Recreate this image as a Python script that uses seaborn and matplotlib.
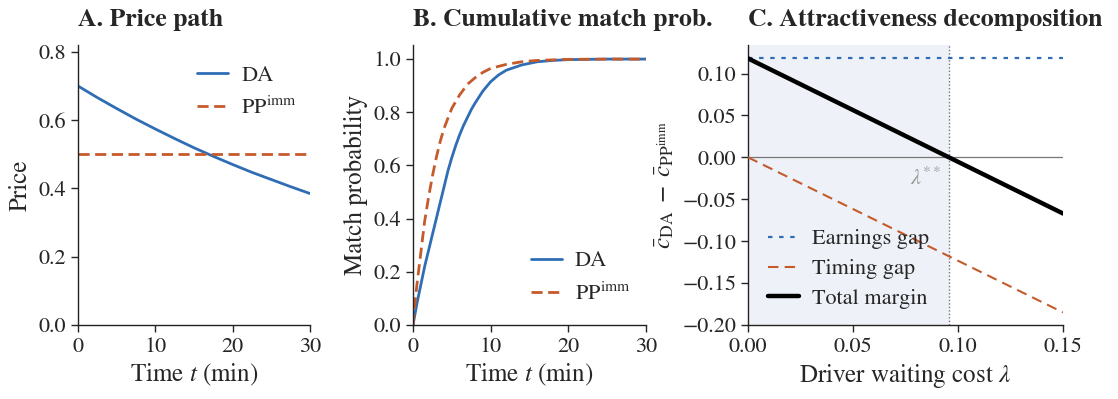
import numpy as np
import pandas as pd
import matplotlib
matplotlib.use("Agg")
import matplotlib.pyplot as plt
import seaborn as sns

# panel A: price path
t_price = [0, 2.5, 5, 7.5, 10, 12.5, 15, 17.5, 20, 22.5, 25, 27.5, 30]
price_da = [0.700, 0.666, 0.634, 0.603, 0.574, 0.546, 0.519, 0.494, 0.470, 0.447, 0.426, 0.405, 0.385]
price_pp = [0.5] * len(t_price)

# panel B: cumulative match probability
t_da = [0, 0.5, 1, 1.5, 2, 2.5, 3, 3.5, 4, 4.5, 5, 5.5, 6, 6.5, 7, 7.5, 8, 9, 10, 11, 12, 14, 16, 18, 20, 25, 30]
match_da = [0, 0.08, 0.15, 0.22, 0.28, 0.34, 0.40, 0.46, 0.52, 0.58, 0.63, 0.675, 0.715, 0.75,
            0.78, 0.81, 0.835, 0.88, 0.915, 0.94, 0.958, 0.978, 0.99, 0.995, 0.998, 1.0, 1.0]
t_pp = [0, 0.25, 0.5, 1, 1.5, 2, 2.5, 3, 3.5, 4, 5, 6, 7, 8, 9, 10, 12, 14, 16, 20, 25, 30]
match_pp = [0, 0.08, 0.15, 0.27, 0.39, 0.48, 0.56, 0.63, 0.69, 0.74, 0.815, 0.865, 0.905, 0.93,
            0.95, 0.965, 0.98, 0.99, 0.995, 0.999, 1.0, 1.0]

# panel C: decomposition vs waiting cost
lam = [0.0, 0.15]
earnings_gap = [0.118, 0.118]
timing_gap = [0.0, -0.185]
total_margin = [0.118, -0.067]
lam_star = 0.0955

BLUE = "#2f6db5"
ORANGE = "#c55a2b"

sns.set_theme(style="ticks")
plt.rcParams["font.family"] = ["STIXGeneral", "DejaVu Serif"]
plt.rcParams["mathtext.fontset"] = "stix"
plt.rcParams["axes.unicode_minus"] = True

W, H = 1118, 399
fig = plt.figure(figsize=(W / 100, H / 100), dpi=100)
bottom, top = 1 - 325 / H, 1 - 45 / H
axA = fig.add_axes([78 / W, bottom, (310 - 78) / W, top - bottom])
axB = fig.add_axes([413 / W, bottom, (646 - 413) / W, top - bottom])
axC = fig.add_axes([748 / W, bottom, (1063 - 748) / W, top - bottom])
axes = [axA, axB, axC]

tick_fs = 16
label_fs = 18
title_fs = 18.5
leg_fs = 16
leg_kw = dict(frameon=False, fontsize=leg_fs, handlelength=1.4, handletextpad=0.6)

# A
dfA = pd.DataFrame({"t": t_price + t_price,
                    "price": price_da + price_pp,
                    "mech": ["DA"] * len(t_price) + ["PP$^{\\mathrm{imm}}$"] * len(t_price)})
sns.lineplot(data=dfA, x="t", y="price", hue="mech", style="mech",
             palette=[BLUE, ORANGE], dashes=[(None, None), (4, 2)], lw=2, ax=axA)
axA.set_xlim(0, 30)
axA.set_ylim(0, 0.82)
axA.set_xticks([0, 10, 20, 30])
axA.set_yticks([0, 0.2, 0.4, 0.6, 0.8])
axA.set_xlabel("Time $t$ (min)", fontsize=label_fs)
axA.set_ylabel("Price", fontsize=label_fs)
axA.set_title("A. Price path", fontsize=title_fs, fontweight="bold", pad=14, loc="left")
axA.legend(loc="upper right", bbox_to_anchor=(1.03, 1.0), **leg_kw)

# B
dfB = pd.DataFrame({"t": t_da + t_pp,
                    "p": match_da + match_pp,
                    "mech": ["DA"] * len(t_da) + ["PP$^{\\mathrm{imm}}$"] * len(t_pp)})
sns.lineplot(data=dfB, x="t", y="p", hue="mech", style="mech",
             palette=[BLUE, ORANGE], dashes=[(None, None), (4, 2)], lw=2, ax=axB)
axB.set_xlim(0, 30)
axB.set_ylim(0, 1.053)
axB.set_xticks([0, 10, 20, 30])
axB.set_yticks([0, 0.2, 0.4, 0.6, 0.8, 1.0])
axB.set_xlabel("Time $t$ (min)", fontsize=label_fs)
axB.set_ylabel("Match probability", fontsize=label_fs)
axB.set_title("B. Cumulative match prob.", fontsize=title_fs, fontweight="bold", pad=14, loc="left")
axB.legend(loc="lower right", bbox_to_anchor=(1.02, 0.0), **leg_kw)

# C
axC.axvspan(0, lam_star, color="#eef2f8", zorder=0)
axC.axhline(0, color="#777777", lw=0.9, zorder=1)
axC.axvline(lam_star, color="#777777", lw=1, ls=(0, (1, 1.5)), zorder=1)
dfC = pd.DataFrame({"lam": lam * 3,
                    "v": earnings_gap + timing_gap + total_margin,
                    "comp": ["Earnings gap"] * 2 + ["Timing gap"] * 2 + ["Total margin"] * 2})
sns.lineplot(data=dfC, x="lam", y="v", hue="comp", style="comp", size="comp",
             palette=[BLUE, ORANGE, "black"], dashes=[(2, 3), (5, 3), (None, None)],
             sizes=[1.6, 1.5, 3.2], ax=axC, zorder=3)
axC.text(lam_star - 0.0035, -0.012, r"$\lambda^{**}$", color="#999999", fontsize=16,
         ha="right", va="top")
axC.set_xlim(0, 0.15)
axC.set_ylim(-0.2, 0.134)
axC.set_xticks([0, 0.05, 0.10, 0.15])
axC.set_xticklabels(["0.00", "0.05", "0.10", "0.15"])
axC.set_yticks([-0.2, -0.15, -0.1, -0.05, 0, 0.05, 0.1])
axC.set_yticklabels(["\u22120.20", "\u22120.15", "\u22120.10", "\u22120.05", "0.00", "0.05", "0.10"])
axC.set_xlabel("Driver waiting cost $\\lambda$", fontsize=label_fs)
axC.set_ylabel(r"$\bar{c}_{\mathrm{DA}}\;-\;\bar{c}_{\mathrm{PP^{imm}}}$", fontsize=label_fs)
axC.set_title("C. Attractiveness decomposition", fontsize=title_fs, fontweight="bold", pad=14, loc="left")
axC.legend(loc="lower left", bbox_to_anchor=(0.0, -0.015), labelspacing=0.42, **leg_kw)

for ax in axes:
    ax.tick_params(labelsize=tick_fs, length=5, width=1)
    for s in ["left", "bottom"]:
        ax.spines[s].set_color("#222222")
        ax.spines[s].set_linewidth(1)
sns.despine(fig=fig)

fig.savefig("out.png", dpi=100)
